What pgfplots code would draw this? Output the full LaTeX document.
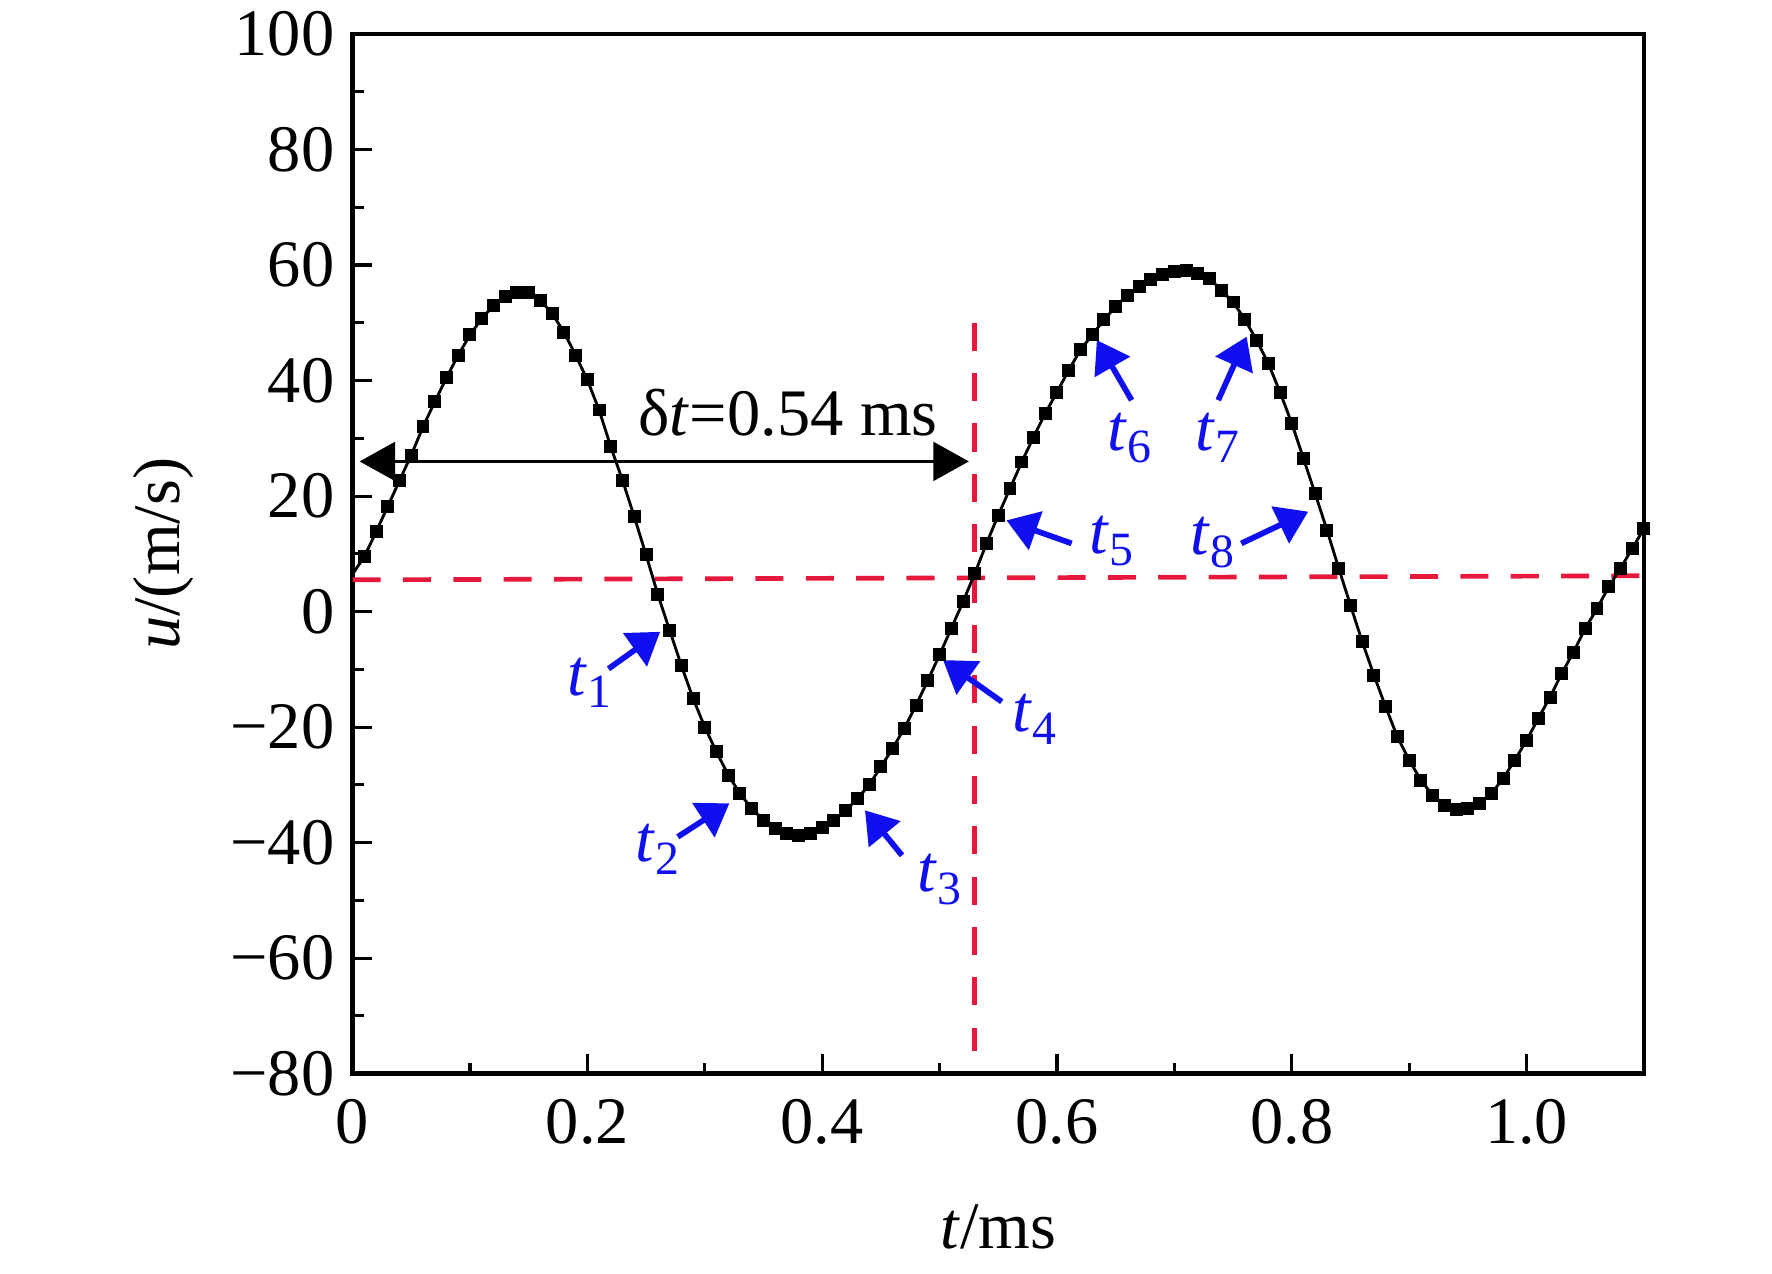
\documentclass[border=0pt]{standalone}
\usepackage{pgfplots}
\pgfplotsset{compat=1.18}
\usepackage{pgfplotstable}
\usetikzlibrary{arrows.meta}
\usepackage{fontspec}
\setmainfont{Liberation Serif}
\definecolor{myred}{RGB}{230,25,60}
\definecolor{myblue}{RGB}{15,15,240}
\newcommand{\ts}[1]{\textit{t}\raisebox{-2.4pt}{\fontsize{9.2}{10}\selectfont #1}}

\pgfplotstableread{
t u
0.00 6.5
0.01 9.5
0.02 13.8
0.03 18.2
0.04 22.7
0.05 27.1
0.06 32.0
0.07 36.3
0.08 40.5
0.09 44.4
0.10 47.9
0.11 50.7
0.12 53.0
0.13 54.6
0.14 55.3
0.15 55.2
0.16 53.9
0.17 51.6
0.18 48.4
0.19 44.4
0.20 40.1
0.21 34.9
0.22 28.5
0.23 22.7
0.24 16.4
0.25 9.8
0.26 3.0
0.27 -3.2
0.28 -9.3
0.29 -15.0
0.30 -20.0
0.31 -24.3
0.32 -28.3
0.33 -31.5
0.34 -34.1
0.35 -36.1
0.36 -37.6
0.37 -38.4
0.38 -38.7
0.39 -38.4
0.40 -37.3
0.41 -36.1
0.42 -34.4
0.43 -32.4
0.44 -30.0
0.45 -26.9
0.46 -23.7
0.47 -20.2
0.48 -16.2
0.49 -11.9
0.50 -7.5
0.51 -2.9
0.52 1.7
0.53 6.6
0.54 11.8
0.55 16.7
0.56 21.3
0.57 25.9
0.58 30.2
0.59 34.3
0.60 38.0
0.61 41.8
0.62 45.3
0.63 47.9
0.64 50.5
0.65 52.8
0.66 54.8
0.67 56.2
0.68 57.5
0.69 58.4
0.70 58.8
0.71 59.0
0.72 58.5
0.73 57.7
0.74 55.6
0.75 53.6
0.76 50.6
0.77 47.0
0.78 43.0
0.79 38.0
0.80 32.6
0.81 26.5
0.82 20.4
0.83 14.1
0.84 7.5
0.85 1.1
0.86 -5.2
0.87 -11.0
0.88 -16.5
0.89 -21.7
0.90 -25.7
0.91 -29.2
0.92 -31.8
0.93 -33.5
0.94 -34.3
0.95 -34.1
0.96 -33.2
0.97 -31.5
0.98 -28.9
0.99 -25.7
1.00 -22.3
1.01 -18.5
1.02 -14.8
1.03 -10.7
1.04 -7.0
1.05 -2.9
1.06 0.5
1.07 4.3
1.08 7.5
1.09 10.9
1.10 14.4
}\data

\begin{document}
\begin{tikzpicture}[font=\fontsize{12.8}{15}\selectfont]
\begin{axis}[
  at={(0,0)}, anchor=south west,
  scale only axis,
  width=8.743cm, height=7.039cm,
  xmin=0, xmax=1.1, ymin=-80, ymax=100,
  xtick={0,0.2,0.4,0.6,0.8,1.0},
  xticklabels={0,0.2,0.4,0.6,0.8,1.0},
  ytick={-80,-60,-40,-20,0,20,40,60,80,100},
  yticklabels={−80,−60,−40,−20,0,20,40,60,80,100},
  minor x tick num=1, minor y tick num=1,
  xtick pos=bottom, ytick pos=left,
  tick align=inside,
  major tick length=0.13cm, minor tick length=0.075cm,
  every tick/.style={black, line width=0.6pt},
  axis line style={line width=0.9pt},
  xticklabel style={yshift=-0.05cm},
  xlabel={\textit{t}/ms},
  ylabel={\textit{u}/(m/s)},
  xlabel style={at={(axis description cs:0.5,-0.1683)}, anchor=base},
  ylabel style={at={(axis description cs:-0.1337,0.5)}, anchor=base},
  clip=false,
]
% red dashed guide lines
\addplot[myred, line width=0.9pt, dash pattern=on 5.4pt off 4.3pt] coordinates {(0,5.5) (1.1,6.2)};
\addplot[myred, line width=0.9pt, dash pattern=on 5.4pt off 4.3pt] coordinates {(0.53,50) (0.53,-76)};
% curve
\addplot[black, line width=0.55pt, no marks] table[x=t,y=u] {\data};
\addplot[black, only marks, mark=square*, mark size=1.05pt, skip coords between index={0}{1}] table[x=t,y=u] {\data};
% delta t arrow
\draw[black, line width=0.7pt, {Triangle[length=0.24cm,width=0.26cm]}-{Triangle[length=0.24cm,width=0.26cm]}] (axis cs:0.006,26) -- (axis cs:0.525,26);
\node[anchor=base] at (axis cs:0.371,30.5) {δ\textit{t}=0.54 ms};
% blue arrows
\tikzset{barrow/.style={myblue, line width=1.1pt, -{Triangle[length=0.21cm,width=0.27cm]}}}
\draw[barrow] (axis cs:0.218,-9.9) -- (axis cs:0.262,-3.5);
\draw[barrow] (axis cs:0.277,-39.0) -- (axis cs:0.321,-33.2);
\draw[barrow] (axis cs:0.468,-42.2) -- (axis cs:0.4365,-34.4);
\draw[barrow] (axis cs:0.553,-15.6) -- (axis cs:0.503,-8.4);
\draw[barrow] (axis cs:0.6125,11.8) -- (axis cs:0.557,15.8);
\draw[barrow] (axis cs:0.6636,36.6) -- (axis cs:0.634,47.0);
\draw[barrow] (axis cs:0.7374,36.6) -- (axis cs:0.7616,47.6);
\draw[barrow] (axis cs:0.757,11.8) -- (axis cs:0.814,17.3);
\tikzset{blab/.style={myblue, anchor=base west, inner sep=0pt}}
\node[blab] at (axis cs:0.182,-14.5) {\ts{1}};
\node[blab] at (axis cs:0.2405,-43.3) {\ts{2}};
\node[blab] at (axis cs:0.4805,-48.5) {\ts{3}};
\node[blab] at (axis cs:0.561,-20.8) {\ts{4}};
\node[blab] at (axis cs:0.6267,10.1) {\ts{5}};
\node[blab] at (axis cs:0.642,27.9) {\ts{6}};
\node[blab] at (axis cs:0.7175,27.9) {\ts{7}};
\node[blab] at (axis cs:0.713,9.8) {\ts{8}};
\end{axis}
\pgfresetboundingbox
\useasboundingbox (-2.387,-1.351) rectangle (9.610,7.269);
\end{tikzpicture}
\end{document}
